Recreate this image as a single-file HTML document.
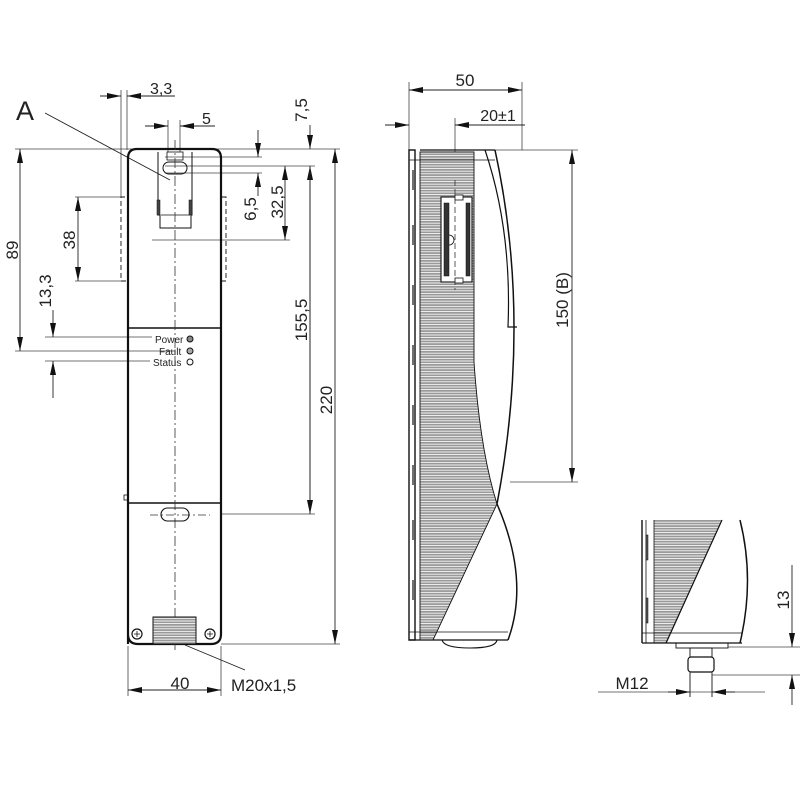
<!DOCTYPE html>
<html><head><meta charset="utf-8"><style>
html,body{margin:0;padding:0;background:#fff}
svg{display:block}
text{font-family:"Liberation Sans",sans-serif;fill:#222}
</style></head><body>
<svg width="800" height="800" viewBox="0 0 800 800" xmlns="http://www.w3.org/2000/svg">
<defs>
<pattern id="h" width="10" height="2.6" patternUnits="userSpaceOnUse">
<rect width="10" height="2.6" fill="#fff"/>
<rect width="10" height="1.8" fill="#999"/>
</pattern>
<marker id="a" viewBox="0 0 14 6" refX="14" refY="3" markerWidth="14" markerHeight="6" orient="auto-start-reverse" markerUnits="userSpaceOnUse">
<path d="M0,0 L14,3 L0,6 z" fill="#111"/>
</marker>
</defs>

<g stroke="#444" stroke-width="0.8" fill="none">
<line x1="15" y1="149" x2="340" y2="149"/>
<line x1="165" y1="157" x2="262" y2="157"/>
<line x1="165" y1="166" x2="315" y2="166"/>
<line x1="165" y1="173" x2="262" y2="173"/>
<line x1="152" y1="240" x2="290" y2="240"/>
<line x1="75" y1="197" x2="125" y2="197"/>
<line x1="75" y1="281" x2="125" y2="281"/>
<line x1="15" y1="351" x2="175" y2="351"/>
<line x1="45" y1="337" x2="152" y2="337"/>
<line x1="45" y1="361" x2="150" y2="361"/>
<line x1="221" y1="514" x2="315" y2="514"/>
<line x1="221" y1="644" x2="340" y2="644"/>
<line x1="121" y1="90" x2="121" y2="197"/>
<line x1="127" y1="90" x2="127" y2="150"/>
<line x1="168" y1="120" x2="168" y2="152"/>
<line x1="180" y1="120" x2="180" y2="152"/>
<line x1="128" y1="646" x2="128" y2="696"/>
<line x1="221" y1="646" x2="221" y2="696"/>
</g>

<g stroke="#222" stroke-width="0.9" fill="none">
<line x1="100" y1="96" x2="121" y2="96" marker-end="url(#a)"/>
<line x1="175" y1="96" x2="127" y2="96" marker-end="url(#a)"/>
<line x1="145" y1="126" x2="168" y2="126" marker-end="url(#a)"/>
<line x1="215" y1="126" x2="180" y2="126" marker-end="url(#a)"/>
<line x1="310" y1="125" x2="310" y2="149" marker-end="url(#a)"/>
<line x1="310" y1="514" x2="310" y2="166" marker-end="url(#a)"/>
<line x1="310" y1="166" x2="310" y2="514" marker-end="url(#a)"/>
<line x1="258" y1="130" x2="258" y2="157" marker-end="url(#a)"/>
<line x1="258" y1="196" x2="258" y2="173" marker-end="url(#a)"/>
<line x1="285" y1="166" x2="285" y2="240" marker-start="url(#a)" marker-end="url(#a)"/>
<line x1="78" y1="197" x2="78" y2="281" marker-start="url(#a)" marker-end="url(#a)"/>
<line x1="20" y1="149" x2="20" y2="351" marker-start="url(#a)" marker-end="url(#a)"/>
<line x1="53" y1="310" x2="53" y2="337" marker-end="url(#a)"/>
<line x1="53" y1="398" x2="53" y2="361" marker-end="url(#a)"/>
<line x1="335" y1="149" x2="335" y2="644" marker-start="url(#a)" marker-end="url(#a)"/>
<line x1="128" y1="690" x2="221" y2="690" marker-start="url(#a)" marker-end="url(#a)"/>
<line x1="45" y1="113" x2="170" y2="180"/>
<line x1="185" y1="645" x2="245" y2="670"/>
</g>

<g stroke="#111" fill="none">
<path d="M128,644 L128,158 Q128,149 137,149 L212,149 Q221,149 221,158 L221,634 Q221,644 211,644 L138,644 Q128,644 128,634 Z" stroke-width="2.2"/>
<line x1="128" y1="328" x2="221" y2="328" stroke-width="1.6"/>
<line x1="128" y1="503" x2="221" y2="503" stroke-width="1.6"/>
<rect x="124" y="495" width="4" height="5" stroke-width="0.8"/>
<path d="M158,152 L158,215 L160,215 L160,228 L191,228 L191,215 L192,215 L192,152" stroke-width="1"/>
<rect x="163" y="162" width="24" height="12" rx="6" stroke-width="1"/>
<rect x="167" y="152" width="16" height="8" stroke-width="0.8"/>
<line x1="161" y1="215" x2="190" y2="215" stroke-width="0.8"/>
<rect x="157" y="200" width="3" height="15" fill="#444" stroke-width="0.5"/>
<rect x="189" y="200" width="3" height="15" fill="#444" stroke-width="0.5"/>
<path d="M125,197 L121,197 L121,281 L127,281" stroke-dasharray="5,3" stroke-width="0.9"/>
<path d="M222,197 L226,197 L226,281 L222,281" stroke-dasharray="5,3" stroke-width="0.9"/>
<line x1="175" y1="140" x2="175" y2="650" stroke="#333" stroke-width="0.8" stroke-dasharray="10,3,2,3"/>
<line x1="150" y1="515" x2="210" y2="515" stroke="#333" stroke-width="0.7" stroke-dasharray="8,3,2,3"/>
<rect x="161" y="508" width="28" height="13" rx="6.5" stroke-width="1.1"/>
<circle cx="190" cy="339" r="3" fill="#888" stroke-width="1"/>
<circle cx="190" cy="351" r="3" fill="#aaa" stroke-width="1"/>
<circle cx="190" cy="362" r="3" fill="#fff" stroke-width="1"/>
<rect x="153" y="617" width="43" height="27" fill="url(#h)" stroke-width="1"/>
<circle cx="137" cy="634" r="5" stroke-width="1.2"/>
<path d="M134,634h6M137,631v6" stroke-width="0.8"/>
<circle cx="210" cy="634" r="5" stroke-width="1.2"/>
<path d="M207,634h6M210,631v6" stroke-width="0.8"/>
</g>

<text x="16" y="120" font-size="27">A</text>
<text x="150" y="94" font-size="16">3,3</text>
<text x="202" y="124" font-size="16">5</text>
<text x="180" y="689" font-size="17" text-anchor="middle">40</text>
<text x="231" y="691" font-size="17">M20x1,5</text>
<text x="155" y="343" font-size="10">Power</text>
<text x="159" y="355" font-size="10">Fault</text>
<text x="153" y="366" font-size="10">Status</text>
<text transform="translate(18,250) rotate(-90)" font-size="17" text-anchor="middle">89</text>
<text transform="translate(75,240) rotate(-90)" font-size="17" text-anchor="middle">38</text>
<text transform="translate(51,291) rotate(-90)" font-size="17" text-anchor="middle">13,3</text>
<text transform="translate(256,209) rotate(-90)" font-size="17" text-anchor="middle">6,5</text>
<text transform="translate(283,202) rotate(-90)" font-size="17" text-anchor="middle">32,5</text>
<text transform="translate(307,110) rotate(-90)" font-size="17" text-anchor="middle">7,5</text>
<text transform="translate(307,320) rotate(-90)" font-size="17" text-anchor="middle">155,5</text>
<text transform="translate(332,400) rotate(-90)" font-size="17" text-anchor="middle">220</text>

<g stroke="#444" stroke-width="0.8" fill="none">
<line x1="409" y1="82" x2="409" y2="150"/>
<line x1="522" y1="82" x2="522" y2="150"/>
<line x1="455" y1="118" x2="455" y2="190"/>
<line x1="495" y1="150" x2="578" y2="150"/>
<line x1="510" y1="482" x2="578" y2="482"/>
</g>
<g stroke="#222" stroke-width="0.9">
<line x1="409" y1="90" x2="522" y2="90" marker-start="url(#a)" marker-end="url(#a)"/>
<line x1="385" y1="125" x2="409" y2="125" marker-end="url(#a)"/>
<line x1="525" y1="125" x2="455" y2="125" marker-end="url(#a)"/>
<line x1="572" y1="150" x2="572" y2="482" marker-start="url(#a)" marker-end="url(#a)"/>
</g>
<text x="465" y="86" font-size="17" text-anchor="middle">50</text>
<text x="498" y="121" font-size="16" text-anchor="middle">20±1</text>
<text transform="translate(568,300) rotate(-90)" font-size="17" text-anchor="middle">150  (B)</text>

<g stroke="#111" fill="none">
<path d="M420,152 L474,152 L474,362 Q480,450 497,504 L433,640 L420,640 Z" fill="url(#h)" stroke-width="0.9"/>
<rect x="409" y="150" width="6" height="490" stroke-width="1.4"/>
<line x1="415" y1="150" x2="415" y2="640" stroke-width="1"/>
<line x1="409" y1="160" x2="495" y2="160" stroke-width="0.8"/>
<line x1="409" y1="632" x2="508" y2="632" stroke-width="0.8"/>
<line x1="409" y1="640" x2="508" y2="640" stroke-width="1.2"/>
<line x1="420" y1="150" x2="495" y2="150" stroke-width="1.2"/>
<path d="M495,150 Q532,320 497,504 Q530,580 508,640" stroke-width="1.5"/>
<path d="M485,150 Q512,230 508,327 L517,327" stroke-width="1.2"/>
<path d="M442,640 Q444,648 470,648 Q496,648 497,640" stroke-width="1.1"/>
<rect x="441" y="197" width="31" height="85" fill="#fff" stroke-width="1.1"/>
<rect x="444" y="203" width="5" height="73" fill="#333" stroke-width="0.5"/>
<rect x="466" y="203" width="4" height="73" fill="#333" stroke-width="0.5"/>
<rect x="455" y="195" width="8" height="5" fill="#fff" stroke-width="0.8"/>
<rect x="455" y="278" width="8" height="5" fill="#fff" stroke-width="0.8"/>
<path d="M449,235 a4,4 0 0 1 0,10" stroke-width="0.8"/>
<line x1="455" y1="180" x2="455" y2="290" stroke="#333" stroke-width="0.8" stroke-dasharray="6,3"/>
<g stroke-width="1.2">
<line x1="413" y1="170" x2="413" y2="190"/><line x1="413" y1="225" x2="413" y2="245"/>
<line x1="413" y1="285" x2="413" y2="305"/><line x1="413" y1="345" x2="413" y2="365"/>
<line x1="413" y1="405" x2="413" y2="425"/><line x1="413" y1="465" x2="413" y2="485"/>
<line x1="413" y1="520" x2="413" y2="540"/><line x1="413" y1="580" x2="413" y2="600"/>
</g>
</g>

<g stroke="#111" fill="none">
<path d="M654,520 L722,520 L667,643 L654,643 Z" fill="url(#h)" stroke="none"/>
<line x1="722" y1="520" x2="666" y2="643" stroke-width="1.2"/>
<line x1="654" y1="520" x2="654" y2="643" stroke-width="0.8"/>
<line x1="642" y1="520" x2="642" y2="643" stroke-width="1.4"/>
<line x1="646" y1="520" x2="646" y2="643" stroke-width="0.8"/>
<rect x="646" y="535" width="2" height="25" fill="#555" stroke-width="0.5"/>
<rect x="646" y="598" width="2" height="25" fill="#555" stroke-width="0.5"/>
<line x1="642" y1="633" x2="742" y2="633" stroke-width="0.8"/>
<line x1="642" y1="643" x2="742" y2="643" stroke-width="1.2"/>
<path d="M740,520 Q755,580 740,643" stroke-width="1.5"/>
<rect x="676" y="643" width="52" height="5" stroke-width="0.9"/>
<rect x="690" y="648" width="22" height="9" stroke-width="0.9"/>
<rect x="688" y="657" width="26" height="15" rx="3" stroke-width="1.2"/>
<line x1="690" y1="672" x2="690" y2="697" stroke-width="0.9"/>
<line x1="712" y1="672" x2="712" y2="697" stroke-width="0.9"/>
</g>
<g stroke="#444" stroke-width="0.8">
<line x1="728" y1="647" x2="800" y2="647"/>
<line x1="712" y1="675" x2="800" y2="675"/>
<line x1="598" y1="692" x2="765" y2="692"/>
</g>
<g stroke="#222" stroke-width="0.9">
<line x1="792" y1="565" x2="792" y2="647" marker-end="url(#a)"/>
<line x1="792" y1="705" x2="792" y2="675" marker-end="url(#a)"/>
<line x1="668" y1="692" x2="690" y2="692" marker-end="url(#a)"/>
<line x1="735" y1="692" x2="712" y2="692" marker-end="url(#a)"/>
</g>
<text x="632" y="689" font-size="17" text-anchor="middle">M12</text>
<text transform="translate(789,600) rotate(-90)" font-size="17" text-anchor="middle">13</text>
</svg>
</body></html>
